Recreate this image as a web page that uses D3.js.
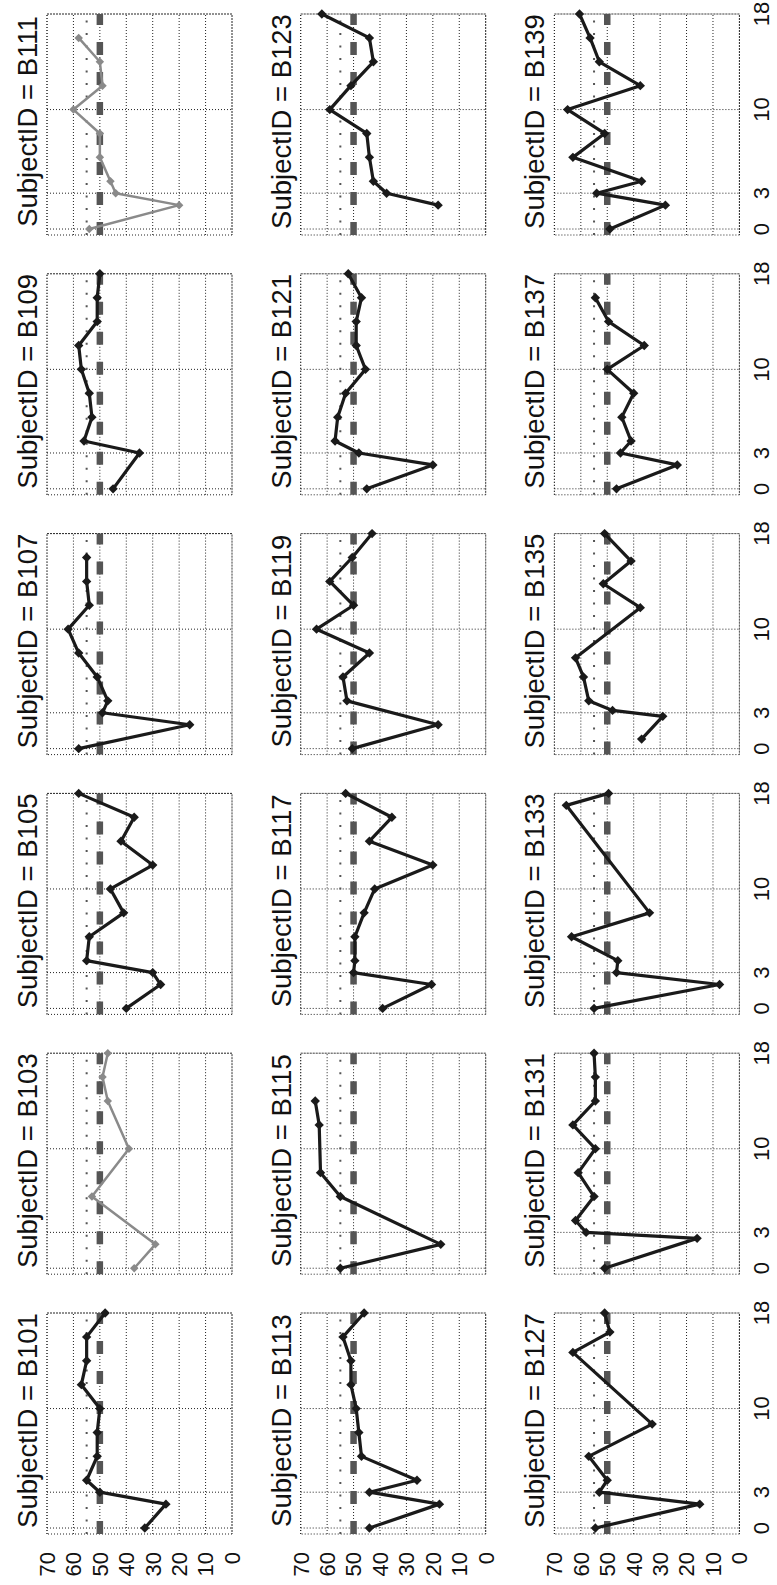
<!DOCTYPE html>
<html><head><meta charset="utf-8">
<script src="https://cdn.jsdelivr.net/npm/d3@7"></script>
<style>html,body{margin:0;padding:0;background:#fff;} svg{display:block;}</style>
</head><body>
<svg id="c" width="777" height="1585"></svg>
<script>
// ---- data (time, value) per subject ----
const subjectRows = [
  ["B101","B103","B105","B107","B109","B111"],
  ["B113","B115","B117","B119","B121","B123"],
  ["B127","B131","B133","B135","B137","B139"]
];
const lightSubjects = ["B103","B111"];
const xTicks = [0, 3, 10, 18];
const yTicks = [0, 10, 20, 30, 40, 50, 60, 70];
const refDashedValue = 50;
const refDottedValue = 55;

const B101 = [[0,33],[2,25],[3,50],[4,55],[6,51],[8,51],[10,50],[12,57],[14,55],[16,55],[18,48]];
const B103 = [[0,37],[2,29],[6,53],[10,39],[14,47],[16,49],[18,47]];
const B105 = [[0,40],[2,27],[3,30],[4,55],[6,54],[8,41],[10,46],[12,30],[14,42],[16,37],[18,58]];
const B107 = [[0,58],[2,16],[3,49],[4,47],[6,51],[8,58],[10,62],[12,54],[14,55],[16,55]];
const B109 = [[0,45],[3,35],[4,56],[6,53],[8,54],[10,57],[12,58],[14,51],[16,51],[18,50]];
const B111 = [[0,54],[2,20],[3,44],[4,46],[6,50],[8,50],[10,60],[12,49],[14,50],[16,58]];
const B113 = [[0,44],[2,17.5],[3,44],[4,26],[6,47],[8,48],[10,49],[12,51],[14,51],[16,54],[18,46]];
const B115 = [[0,55],[2,17],[6,55],[8,62.5],[12,63],[14,64.5]];
const B117 = [[0,39],[2,20.5],[3,50],[4,49.5],[6,49.5],[8,46],[10,42],[12,20],[14,44],[16,35.5],[18,53]];
const B119 = [[0,50.5],[2,18],[4,52.5],[6,54],[8,44],[10,64],[12,50],[14,59],[16,50.5],[18,43]];
const B121 = [[0,45],[2,20],[3,48],[4,57],[6,56],[8,53],[10,45.5],[12,49],[14,49],[16,47],[18,52]];
const B123 = [[2,18],[3,37.5],[4,42.5],[6,44],[8,45],[10,59],[12,51],[14,42.5],[16,44],[18,62]];
const B127 = [[0,54.5],[2,15],[3,53],[4,50],[6,57],[8.7,33],[14.7,63],[16.4,49],[18,51]];
const B131 = [[0,51],[2.5,16],[3,58],[4,62],[6,55],[8,61],[10,54.5],[12,63],[14,54.5],[16,54.5],[18,55]];
const B133 = [[0,55],[2,7.5],[3,46.5],[4,46],[6,63.5],[8,34],[17,65.5],[18,49.5]];
const B135 = [[0.8,37],[2.7,29],[3.2,48],[4,57],[6,59],[7.6,62],[11.8,37.5],[13.8,51.5],[15.7,41],[18,51]];
const B137 = [[0,46.5],[2,23.5],[3,45],[4,41],[6,44.5],[8,40],[10,50],[12,36],[14,49.5],[16,54.5]];
const B139 = [[0,49],[2,28],[3,54],[4,37],[6,63],[8,51],[10,65],[12,37.5],[14,53],[16,56.5],[18,60.5]];

const seriesBySubject = {B101,B103,B105,B107,B109,B111,B113,B115,B117,B119,B121,B123,B127,B131,B133,B135,B137,B139};

// ---- layout (drawn unrotated, then turned 90deg counter-clockwise) ----
const FULL_W = 1585;
const colPitch = 259.8, rowPitch = 253.7;
const panelX0 = 51, panelX1 = 272;
const panelYTop = 47, panelYBot = 232;
const fontFam = "'Liberation Sans', Arial, sans-serif";

const svg = d3.select("#c");
const root = svg.append("g").attr("transform", `translate(0,${FULL_W}) rotate(-90)`);

subjectRows.forEach((row, r) => {
  row.forEach((subj, c) => {
    const x = d3.scaleLinear().domain([-0.5, 18]).range([panelX0 + c*colPitch, panelX1 + c*colPitch]);
    const y = d3.scaleLinear().domain([0, 70]).range([panelYBot + r*rowPitch, panelYTop + r*rowPitch]);
    const g = root.append("g");
    const [xa, xb] = x.range();
    const [yb, ya] = y.range();

    // grid (dotted)
    const gridStyle = sel => sel.attr("stroke", "#222").attr("stroke-width", 1).attr("stroke-dasharray", "1,2").attr("fill", "none");
    g.selectAll("line.vg").data(xTicks).join("line").attr("class","vg")
      .attr("x1", d => x(d)).attr("x2", d => x(d)).attr("y1", ya).attr("y2", yb).call(gridStyle);
    g.selectAll("line.hg").data(yTicks).join("line").attr("class","hg")
      .attr("x1", xa).attr("x2", xb).attr("y1", d => y(d)).attr("y2", d => y(d)).call(gridStyle);
    g.append("rect").attr("x", xa).attr("y", ya).attr("width", xb - xa).attr("height", yb - ya).call(gridStyle);

    // reference lines
    g.append("line").attr("x1", xa).attr("x2", xb).attr("y1", y(refDottedValue)).attr("y2", y(refDottedValue))
      .attr("stroke", "#555").attr("stroke-width", 2).attr("stroke-dasharray", "2,10.5");
    g.append("line").attr("x1", xa).attr("x2", xb).attr("y1", y(refDashedValue)).attr("y2", y(refDashedValue))
      .attr("stroke", "#555").attr("stroke-width", 6.5).attr("stroke-dasharray", "13,17");

    // data
    const data = seriesBySubject[subj];
    const light = lightSubjects.includes(subj);
    const col = light ? "#8a8a8a" : "#1a1a1a";
    g.append("path").datum(data)
      .attr("fill", "none").attr("stroke", col).attr("stroke-width", light ? 2.5 : 3.2)
      .attr("stroke-linejoin", "round")
      .attr("d", d3.line().x(d => x(d[0])).y(d => y(d[1])));
    const sym = d3.symbol().type(d3.symbolSquare).size(light ? 36 : 44);
    g.selectAll("path.pt").data(data).join("path").attr("class","pt")
      .attr("transform", d => `translate(${x(d[0])},${y(d[1])}) rotate(45)`)
      .attr("d", sym).attr("fill", col);

    // title
    g.append("text").attr("x", (xa + xb)/2 + 3).attr("y", 37 + r*rowPitch)
      .attr("text-anchor", "middle").attr("font-family", fontFam).attr("font-size", 27.5)
      .attr("fill", "#111").text(`SubjectID = ${subj}`);

    // y tick labels on first column
    if (c === 0) {
      g.selectAll("text.yt").data(yTicks).join("text").attr("class","yt")
        .attr("x", 33).attr("y", d => y(d)).attr("dy", "0.36em")
        .attr("text-anchor", "end").attr("font-family", fontFam).attr("font-size", 22)
        .attr("fill", "#111").text(d => d);
    }
    // x tick labels on bottom row
    if (r === subjectRows.length - 1) {
      g.selectAll("text.xt").data(xTicks).join("text").attr("class","xt")
        .attr("x", d => x(d)).attr("y", yb + 30)
        .attr("text-anchor", "middle").attr("font-family", fontFam).attr("font-size", 22)
        .attr("fill", "#111").text(d => d);
    }
  });
});
</script>
</body></html>
